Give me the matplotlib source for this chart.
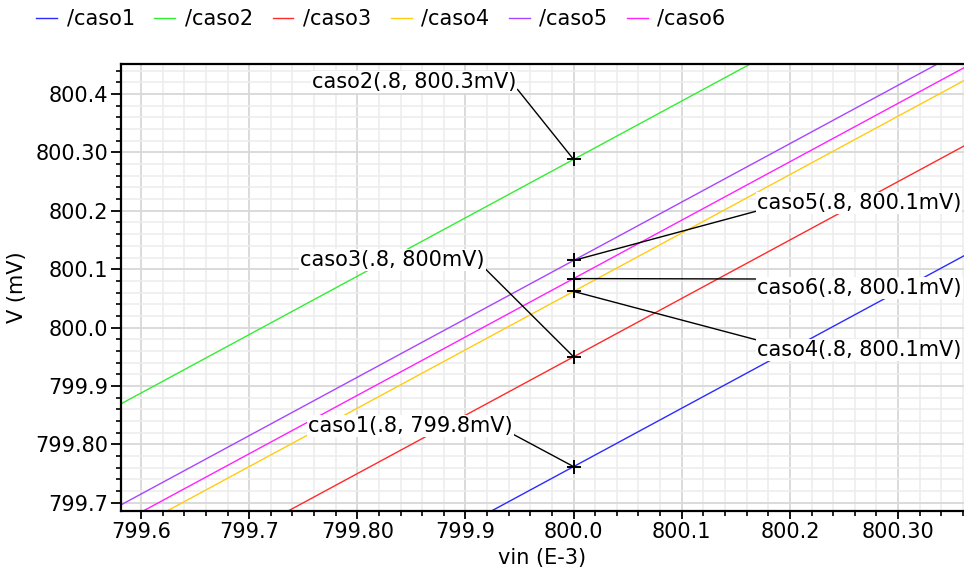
import matplotlib
matplotlib.use("Agg")
import matplotlib.pyplot as plt
from matplotlib.ticker import FixedLocator, FixedFormatter, MultipleLocator

# ----------------------------------------------------------
# data (mV)
# ----------------------------------------------------------
vin = [799.5, 799.6, 799.7, 799.8, 799.9, 800.0, 800.1, 800.2, 800.3, 800.4]

caso1 = [799.262, 799.362, 799.462, 799.562, 799.662, 799.762, 799.862, 799.962, 800.062, 800.162]
caso2 = [799.788, 799.888, 799.988, 800.088, 800.188, 800.288, 800.388, 800.488, 800.588, 800.688]
caso3 = [799.450, 799.550, 799.650, 799.750, 799.850, 799.950, 800.050, 800.150, 800.250, 800.350]
caso4 = [799.562, 799.662, 799.762, 799.862, 799.962, 800.062, 800.162, 800.262, 800.362, 800.462]
caso5 = [799.615, 799.715, 799.815, 799.915, 800.015, 800.115, 800.215, 800.315, 800.415, 800.515]
caso6 = [799.584, 799.684, 799.784, 799.884, 799.984, 800.084, 800.184, 800.284, 800.384, 800.484]

names = ["/caso1", "/caso2", "/caso3", "/caso4", "/caso5", "/caso6"]
series = [caso1, caso2, caso3, caso4, caso5, caso6]
colors = ["#2b2bff", "#33ee33", "#ff2a2a", "#ffcc11", "#a746ff", "#ff22ff"]

# marker labels (point at vin = 800.0)
mark_idx = 5
mark_text = {
    "caso1": "caso1(.8, 799.8mV)",
    "caso2": "caso2(.8, 800.3mV)",
    "caso3": "caso3(.8, 800mV)",
    "caso4": "caso4(.8, 800.1mV)",
    "caso5": "caso5(.8, 800.1mV)",
    "caso6": "caso6(.8, 800.1mV)",
}

xtick_vals = [799.6, 799.7, 799.8, 799.9, 800.0, 800.1, 800.2, 800.3]
xtick_labels = ["799.6", "799.7", "799.80", "799.9", "800.0", "800.1", "800.2", "800.30"]
ytick_vals = [799.7, 799.8, 799.9, 800.0, 800.1, 800.2, 800.3, 800.4]
ytick_labels = ["799.7", "799.80", "799.9", "800.0", "800.1", "800.2", "800.30", "800.4"]

# ----------------------------------------------------------
# figure
# ----------------------------------------------------------
plt.rcParams["font.family"] = ["DejaVu Sans"]
FS = 15

W, H = 964, 569
fig = plt.figure(figsize=(W / 100, H / 100), dpi=100)
ax = fig.add_axes([121 / W, 1 - 511 / H, 843 / W, 447 / H])

for name, ys, c in zip(names, series, colors):
    ax.plot(vin, ys, color=c, lw=1.0, label=name, zorder=2)

ax.set_xlim(799.5815, 800.361)
ax.set_ylim(799.686, 800.4514)

ax.xaxis.set_major_locator(FixedLocator(xtick_vals))
ax.xaxis.set_major_formatter(FixedFormatter(xtick_labels))
ax.yaxis.set_major_locator(FixedLocator(ytick_vals))
ax.yaxis.set_major_formatter(FixedFormatter(ytick_labels))
ax.xaxis.set_minor_locator(MultipleLocator(0.02))
ax.yaxis.set_minor_locator(MultipleLocator(0.02))

ax.grid(True, which="major", color="#d8d8d8", lw=1.3, zorder=0)
ax.grid(True, which="minor", color="#ededed", lw=1.2, zorder=0)
ax.set_axisbelow(True)

ax.tick_params(which="major", length=7, width=1.3, labelsize=FS, pad=2)
ax.tick_params(which="minor", length=3.5, width=1.2)
ax.tick_params(axis="x", which="major", length=6, pad=2)
for s in ["top", "left", "bottom"]:
    ax.spines[s].set_linewidth(1.6)
ax.spines["right"].set_visible(False)

ax.set_xlabel("vin (E-3)", fontsize=FS)
ax.set_ylabel("V (mV)", fontsize=FS)
ax.xaxis.set_label_coords(0.5, -0.083)
ax.yaxis.set_label_coords(-0.112, 0.5)

# markers + annotations
text_pos = {
    "caso2": ((0.2266, 0.9597), (1, 0.2)),
    "caso5": ((0.7544, 0.689), (0, 0.1)),
    "caso6": ((0.7544, 0.4989), (0, 0.95)),
    "caso4": ((0.7544, 0.3602), (0, 1.0)),
    "caso3": ((0.2123, 0.5615), (1, 0.1)),
    "caso1": ((0.2218, 0.1902), (1, 0.1)),
}
for name, ys in zip(names, series):
    key = name.strip("/")
    px, py = vin[mark_idx], ys[mark_idx]
    ax.plot(px, py, marker="+", color="black", ms=10, mew=1.4, zorder=5)
    xy_txt, rel = text_pos[key]
    ax.annotate(mark_text[key], xy=(px, py), xytext=xy_txt, textcoords="axes fraction",
                ha="left", va="center", fontsize=FS, zorder=4,
                bbox=dict(boxstyle="square,pad=0.05", fc="white", ec="none"),
                arrowprops=dict(arrowstyle="-", color="black", lw=1.0,
                                shrinkA=0, shrinkB=0, relpos=rel))

fig.legend(loc="center left", bbox_to_anchor=(28 / W, 1 - 19 / H), ncol=6,
           frameon=False, fontsize=FS, handlelength=1.0, handletextpad=0.45,
           columnspacing=0.95, borderaxespad=0)

fig.savefig("out.png", dpi=100)
